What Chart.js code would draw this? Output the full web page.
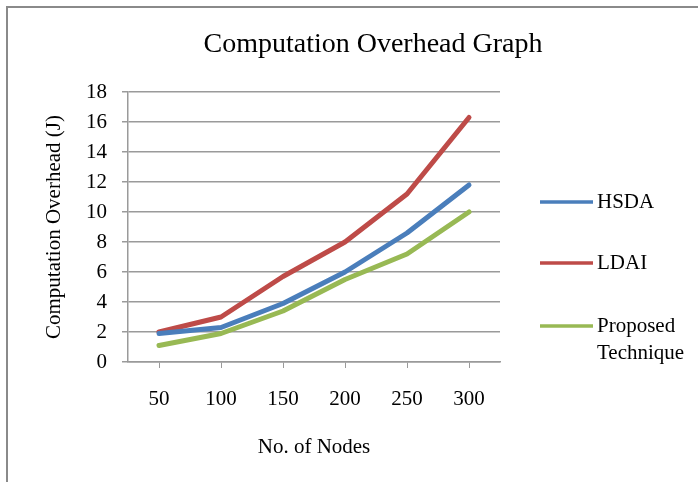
<!DOCTYPE html>
<html>
<head>
<meta charset="utf-8">
<script src="https://cdn.jsdelivr.net/npm/chart.js@4"></script>
<style>
html,body{margin:0;padding:0;background:#fff;overflow:hidden;}
#wrap{position:relative;width:698px;height:482px;}
#frame{position:absolute;left:6px;top:6px;width:900px;height:900px;border:2px solid #8a8a8a;box-sizing:border-box;pointer-events:none;}
canvas{position:absolute;left:0;top:0;}
</style>
</head>
<body>
<div id="wrap">
<canvas id="c" width="698" height="482"></canvas>
<div id="frame"></div>
</div>
<script>
const categories = ['50','100','150','200','250','300'];
const hsda = [1.9, 2.3, 3.9, 6.0, 8.6, 11.8];
const ldai = [2.0, 3.0, 5.7, 8.0, 11.2, 16.3];
const proposed = [1.1, 1.9, 3.4, 5.5, 7.2, 10.0];
const seriesNames = ['HSDA', 'LDAI', ['Proposed', 'Technique']];
const chartTitle = 'Computation Overhead Graph';
const xTitle = 'No. of Nodes';
const yTitle = 'Computation Overhead (J)';

const FONT = "'Liberation Serif', 'Times New Roman', serif";
const colors = ['#4A7EBB', '#BE4B48', '#98B954'];

const legendPlugin = {
  id: 'sideLegend',
  afterDraw(chart) {
    const ctx = chart.ctx;
    const ys = [202, 263, 326];
    ctx.save();
    chart.data.datasets.forEach((ds, i) => {
      const y = ys[i];
      ctx.strokeStyle = ds.borderColor;
      ctx.lineWidth = 3.5;
      ctx.lineCap = 'butt';
      ctx.beginPath();
      ctx.moveTo(540, y);
      ctx.lineTo(593, y);
      ctx.stroke();
      ctx.fillStyle = '#000';
      ctx.font = '21px ' + FONT;
      ctx.textBaseline = 'middle';
      ctx.textAlign = 'left';
      const lines = Array.isArray(ds.label) ? ds.label : [ds.label];
      lines.forEach((t, j) => ctx.fillText(t, 597, y + j * 27));
    });
    ctx.restore();
  }
};

new Chart(document.getElementById('c'), {
  type: 'line',
  data: {
    labels: categories,
    datasets: [
      { label: seriesNames[0], data: hsda, borderColor: colors[0], backgroundColor: colors[0] },
      { label: seriesNames[1], data: ldai, borderColor: colors[1], backgroundColor: colors[1] },
      { label: seriesNames[2], data: proposed, borderColor: colors[2], backgroundColor: colors[2] }
    ]
  },
  options: {
    responsive: false,
    animation: false,
    devicePixelRatio: 1,
    layout: { padding: { left: 0, right: 198, top: 92, bottom: 0 } },
    elements: {
      line: { borderWidth: 5, tension: 0, borderCapStyle: 'round', borderJoinStyle: 'round' },
      point: { radius: 0, hoverRadius: 0 }
    },
    plugins: {
      legend: { display: false },
      tooltip: { enabled: false },
      title: { display: false }
    },
    scales: {
      x: {
        offset: true,
        afterFit(s) { s.height = 120; },
        grid: { display: true, drawOnChartArea: false, drawTicks: true, tickLength: 6, color: '#9a9a9a', offset: false },
        border: { display: true, color: '#9a9a9a', width: 1.5 },
        ticks: { color: '#000', font: { family: FONT, size: 21 }, padding: 19, maxRotation: 0 },
        title: { display: true, text: xTitle, color: '#000', font: { family: FONT, size: 21 }, padding: { top: 0, bottom: 22 } }
      },
      y: {
        min: 0, max: 18,
        afterFit(s) { s.width = 128; },
        grid: { color: '#9a9a9a', lineWidth: 1.5, tickLength: 6, drawTicks: true },
        border: { display: true, color: '#9a9a9a', width: 1.5 },
        ticks: { stepSize: 2, color: '#000', font: { family: FONT, size: 21 }, padding: 15 },
        title: { display: true, text: yTitle, color: '#000', font: { family: FONT, size: 21 }, padding: { top: 42, bottom: 0 } }
      }
    }
  },
  plugins: [legendPlugin, {
    id: 'topTitle',
    afterDraw(chart) {
      const ctx = chart.ctx;
      ctx.save();
      ctx.fillStyle = '#000';
      ctx.font = '28px ' + FONT;
      ctx.textAlign = 'center';
      ctx.textBaseline = 'middle';
      ctx.fillText(chartTitle, 373, 45);
      ctx.restore();
    }
  }]
});
</script>
</body>
</html>
